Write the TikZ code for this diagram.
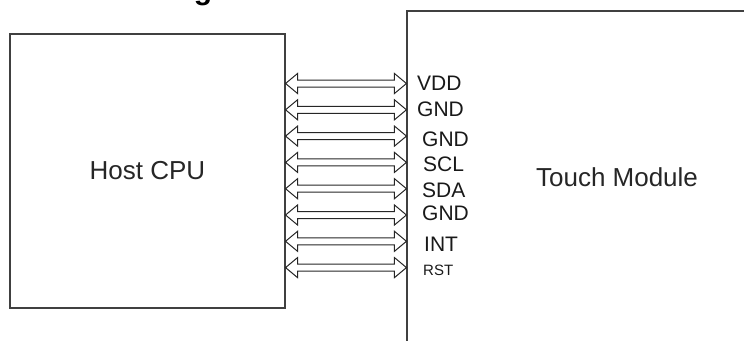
\documentclass[tikz,border=0pt]{standalone}
\usepackage{fontspec}
\setmainfont{Liberation Sans}
\usetikzlibrary{calc}

\begin{document}
\begin{tikzpicture}[
        x=1pt, y=-1pt,
        block/.style={rectangle, draw=black!75, line width=1.1pt, inner sep=0pt, align=center, text=black!85, font=\fontsize{26}{30}\selectfont},
        pinlabel/.style={anchor=west, inner sep=0pt, text=black!90, font=\fontsize{21}{24}\selectfont},
        busarrow/.style={draw=black!85, line width=1pt, line join=miter, to path={
            -- ($(\tikztostart)+(12,-10)$) -- ($(\tikztostart)+(12,-3.5)$)
            -- ($(\tikztotarget)+(-12,-3.5)$) -- ($(\tikztotarget)+(-12,-10)$)
            -- (\tikztotarget)
            -- ($(\tikztotarget)+(-12,10)$) -- ($(\tikztotarget)+(-12,3.5)$)
            -- ($(\tikztostart)+(12,3.5)$) -- ($(\tikztostart)+(12,10)$) -- cycle}}
    ]
        \useasboundingbox (0,0) rectangle (744,340);
        \clip (0,0) rectangle (744,340);

        % Title (cut off at the top edge)
        \node[anchor=base west, inner sep=0pt, font=\bfseries\fontsize{30}{30}\selectfont] (title) at (57,-0.5) {Block Diagram};

        % Blocks
        \node[block, minimum width=275pt, minimum height=274pt] (host) at (147.5,171) {Host CPU};
        \node[block, minimum width=420pt, minimum height=332pt] (touch) at (617,177) {Touch Module};

        % Pin ends
        \coordinate (l1) at (host.east |- 0,83.5);   \coordinate (r1) at (touch.west |- 0,83.5);
        \coordinate (l2) at (host.east |- 0,109.8);  \coordinate (r2) at (touch.west |- 0,109.8);
        \coordinate (l3) at (host.east |- 0,136.1);  \coordinate (r3) at (touch.west |- 0,136.1);
        \coordinate (l4) at (host.east |- 0,162.4);  \coordinate (r4) at (touch.west |- 0,162.4);
        \coordinate (l5) at (host.east |- 0,188.7);  \coordinate (r5) at (touch.west |- 0,188.7);
        \coordinate (l6) at (host.east |- 0,215);    \coordinate (r6) at (touch.west |- 0,215);
        \coordinate (l7) at (host.east |- 0,241.3);  \coordinate (r7) at (touch.west |- 0,241.3);
        \coordinate (l8) at (host.east |- 0,267.6);  \coordinate (r8) at (touch.west |- 0,267.6);

        % Bus arrows
        \draw[busarrow] (l1) to (r1);
        \draw[busarrow] (l2) to (r2);
        \draw[busarrow] (l3) to (r3);
        \draw[busarrow] (l4) to (r4);
        \draw[busarrow] (l5) to (r5);
        \draw[busarrow] (l6) to (r6);
        \draw[busarrow] (l7) to (r7);
        \draw[busarrow] (l8) to (r8);

        % Pin labels
        \node[pinlabel] (vdd) at (417,83.5) {VDD};
        \node[pinlabel] (gnda) at (417,109.5) {GND};
        \node[pinlabel] (gndb) at (422,139.5) {GND};
        \node[pinlabel] (scl) at (423,164.5) {SCL};
        \node[pinlabel] (sda) at (422,190.5) {SDA};
        \node[pinlabel] (gndc) at (422,213.5) {GND};
        \node[pinlabel] (int) at (424,244.5) {INT};
        \node[pinlabel, font=\fontsize{15}{18}\selectfont] (rst) at (423,270.5) {RST};
    \end{tikzpicture}
\end{document}
